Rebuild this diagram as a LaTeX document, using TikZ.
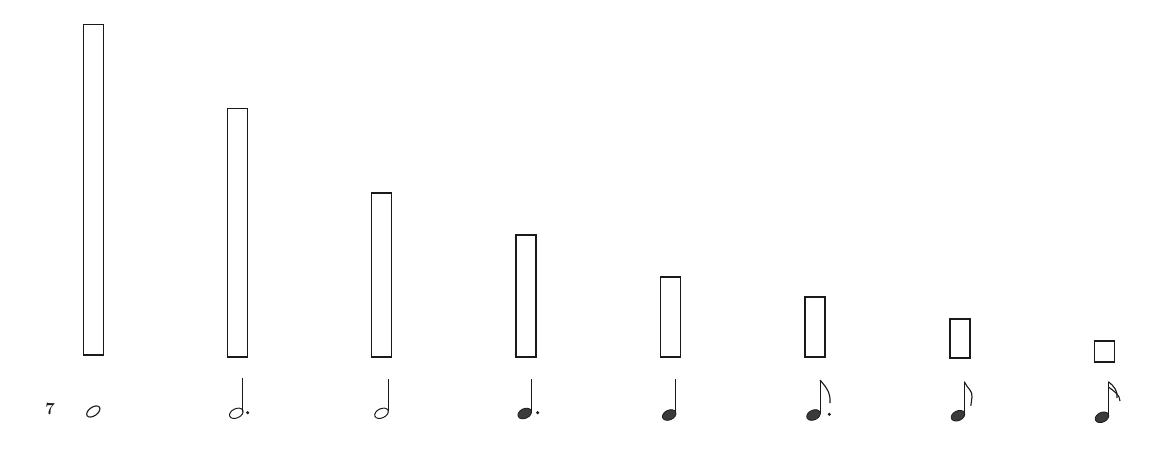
\documentclass[tikz,border=0pt]{standalone}
\usetikzlibrary{positioning}
\definecolor{clrink}{HTML}{1A1A1A}
\definecolor{clrhead}{HTML}{3A3A3A}
\definecolor{clrbarfill}{HTML}{FFFFFF}

\begin{document}
\begin{tikzpicture}[
    x=0.025cm, y=-0.025cm,
    bar/.style={draw=clrink, fill=clrbarfill, line width=0.8pt, minimum width=0.5cm,
                inner sep=0, outer sep=0, anchor=south},
    openhead/.style={draw=clrink, line width=0.7pt},
    fullhead/.style={draw=clrink, fill=clrhead, line width=0.5pt},
    stem/.style={draw=clrink, line width=0.7pt},
    flag/.style={draw=clrink, line width=0.8pt},
    numlabel/.style={font=\large\bfseries, text=clrink},
]
\useasboundingbox (0,0) rectangle (1164,466);
% bars, height proportional to duration
\node[bar, minimum height=8.25cm] (bar_1) at (93.5,355) {};
\node[bar, minimum height=6.2cm] (bar_2) at (237.5,357) {};
\node[bar, minimum height=4.1cm] (bar_3) at (381.5,357) {};
\node[bar, minimum height=3.05cm] (bar_4) at (526,357) {};
\node[bar, minimum height=2.0cm] (bar_5) at (670.5,357) {};
\node[bar, minimum height=1.5cm] (bar_6) at (815,357) {};
\node[bar, minimum height=0.975cm] (bar_7) at (960,358) {};
\node[bar, minimum height=0.525cm] (bar_8) at (1104.5,362) {};
\node[numlabel] (fig_num) at (50,409) {7};
% whole note
\draw[openhead, line width=0.8pt] (93.3,411.5) ellipse [x radius=7.5, y radius=4.3, rotate=35];
% dotted half
\draw[openhead] (236.3,413.3) ellipse [x radius=7.2, y radius=4.6, rotate=25];
\draw[stem] (242.7,378) -- (242.7,412);
\fill[clrink] (247.7,412.7) circle (1.7);
% half
\draw[openhead] (381.5,413.3) ellipse [x radius=7.2, y radius=4.6, rotate=25];
\draw[stem] (388.2,379) -- (388.2,411);
% dotted quarter
\draw[fullhead] (524.7,413.5) ellipse [x radius=7.2, y radius=4.9, rotate=25];
\draw[stem] (531,379) -- (531,412);
\fill[clrink] (537.7,412.7) circle (1.7);
% quarter
\draw[fullhead] (669.2,415) ellipse [x radius=7.2, y radius=4.9, rotate=25];
\draw[stem] (675.7,379) -- (675.7,413);
% dotted eighth
\draw[fullhead] (813.5,415) ellipse [x radius=7.2, y radius=4.9, rotate=25];
\draw[stem] (820,380) -- (820,414);
\draw[flag] (820,380) .. controls (825,386) and (831,392) .. (830,403);
\fill[clrink] (829.3,414.3) circle (1.7);
% eighth
\draw[fullhead] (958,415.7) ellipse [x radius=7.2, y radius=4.9, rotate=25];
\draw[stem] (964.3,381.7) -- (964.3,415);
\draw[flag] (964.3,381.7) .. controls (967,388) and (973,391) .. (972,397) .. controls (971.5,401) .. (970.8,406);
% sixteenth
\draw[fullhead] (1102,417.3) ellipse [x radius=7.2, y radius=4.9, rotate=25];
\draw[stem] (1108.3,381.7) -- (1108.3,416.5);
\draw[flag] (1108.3,381.7) .. controls (1114,386) and (1118,391) .. (1117,398);
\draw[flag] (1108.3,387) .. controls (1114,391) and (1120,395) .. (1120,401);
\end{tikzpicture}
\end{document}
